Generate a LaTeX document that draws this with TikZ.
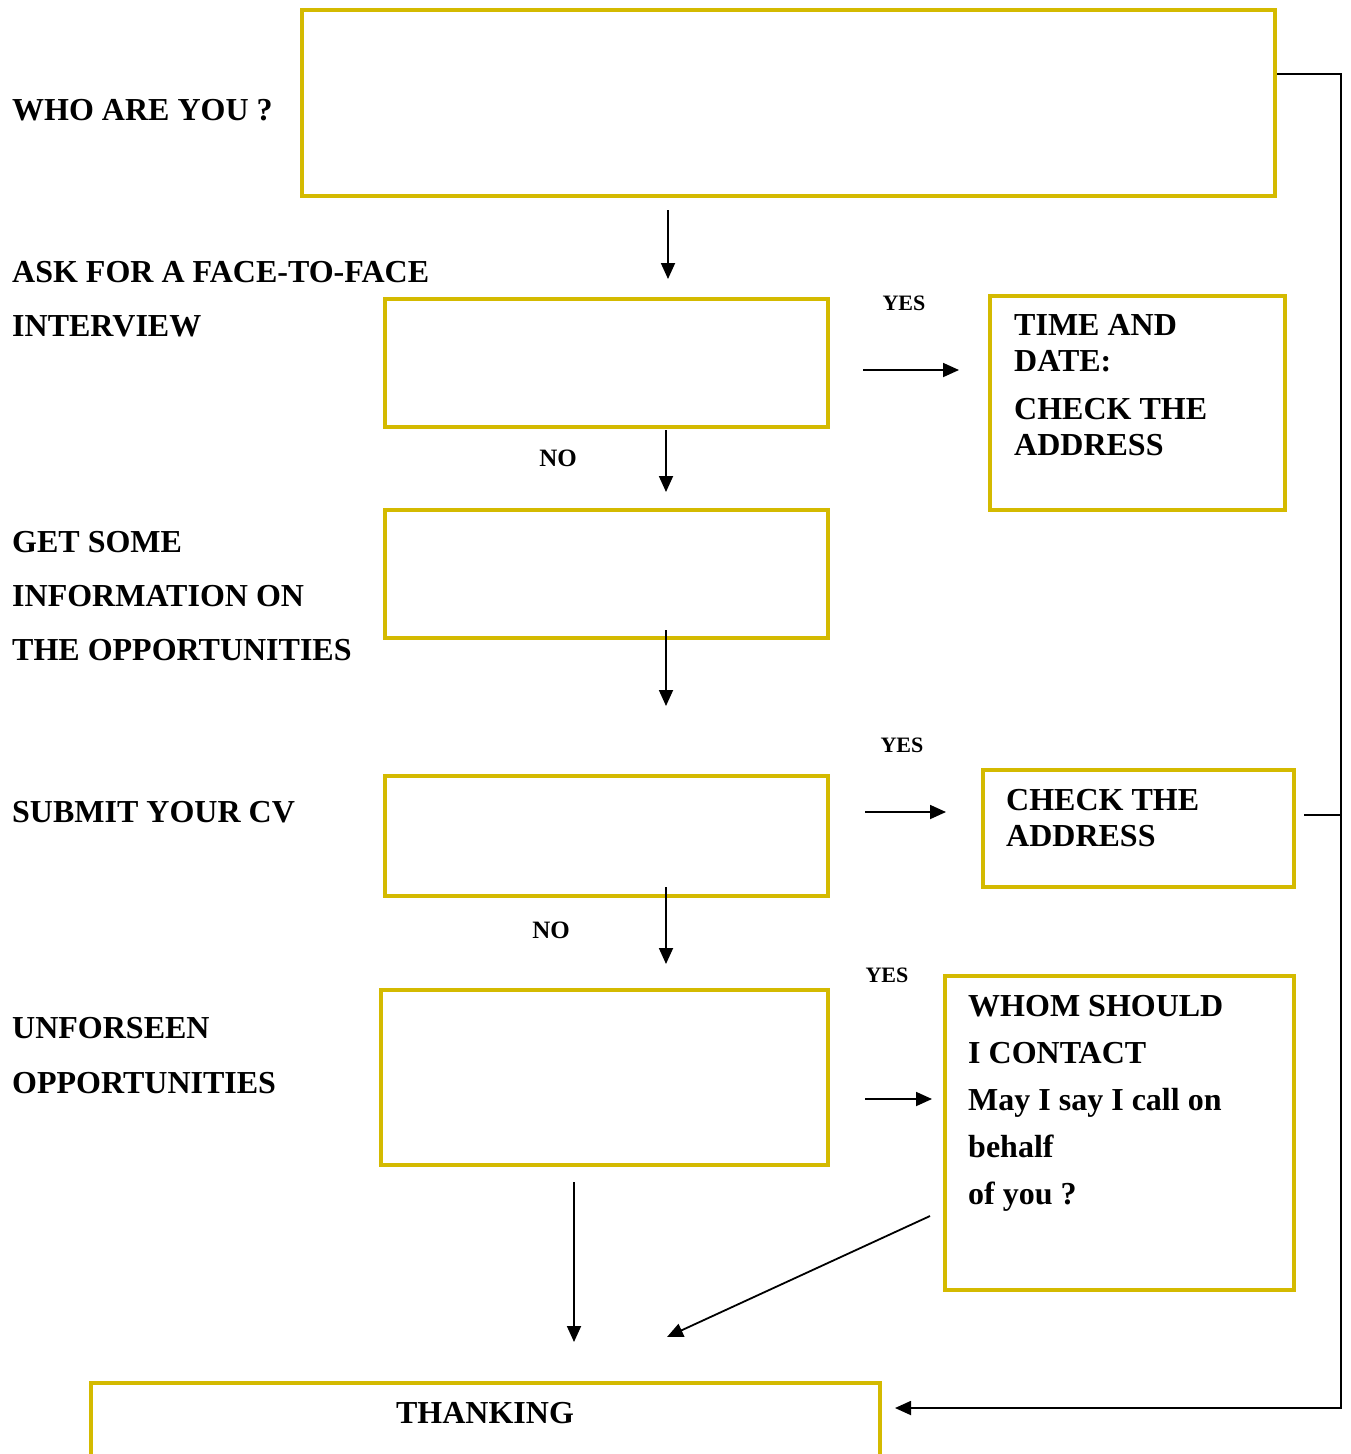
\documentclass[tikz,border=0pt]{standalone}
\usepackage{fontspec}
\setmainfont{Liberation Serif}
\usetikzlibrary{arrows.meta}
\definecolor{boxgold}{RGB}{212,186,0}
\tikzset{
  box/.style={draw=boxgold, line width=4.5pt, inner sep=0pt},
  txt/.style={anchor=base west, inner sep=0pt, align=left, font=\bfseries\fontsize{32}{54}\selectfont},
  small/.style={anchor=base, inner sep=0pt, font=\bfseries\fontsize{22}{26}\selectfont},
  arr/.style={line width=1.8pt, -{Triangle[length=16pt,width=14pt]}},
  wire/.style={line width=1.8pt}
}
\begin{document}
\begin{tikzpicture}[x=1pt, y=-1pt]
\useasboundingbox (0,0) rectangle (1351,1454);
% boxes
\node[box, minimum width=973, minimum height=186] (who) at (788.5,103) {};
\node[box, minimum width=443, minimum height=128] (face) at (606.5,363) {};
\node[box, minimum width=443, minimum height=128] (info) at (606.5,574) {};
\node[box, minimum width=443, minimum height=120] (cv) at (606.5,836) {};
\node[box, minimum width=447, minimum height=175] (unf) at (604.5,1077.5) {};
\node[box, minimum width=295, minimum height=214] (time) at (1137.5,403) {};
\node[box, minimum width=311, minimum height=117] (check) at (1138.5,828.5) {};
\node[box, minimum width=349, minimum height=314] (whom) at (1119.5,1133) {};
\node[box, minimum width=789, minimum height=97] (thank) at (485.5,1431.5) {};
% left texts (placed at the baseline of their last line)
\node[txt] (whotxt) at (12,120) {WHO ARE YOU ?};
\node[txt] (facetxt) at (12,336) {ASK FOR A FACE-TO-FACE\\INTERVIEW};
\node[txt] (infotxt) at (12,660) {GET SOME\\INFORMATION ON\\THE OPPORTUNITIES};
\node[txt] (cvtxt) at (12,822) {SUBMIT YOUR CV};
\node[txt, font=\bfseries\fontsize{32}{55}\selectfont] (unftxt) at (12,1093) {UNFORSEEN\\OPPORTUNITIES};
% texts in boxes
\node[txt, font=\bfseries\fontsize{32}{36}\selectfont] (timetxt) at (1014,455) {TIME AND\\DATE:\\[12pt]CHECK THE\\ADDRESS};
\node[txt, font=\bfseries\fontsize{32}{36}\selectfont] (checktxt) at (1006,846) {CHECK THE\\ADDRESS};
\node[txt, font=\bfseries\fontsize{32}{47}\selectfont] (whomtxt) at (968,1204) {WHOM SHOULD\\I CONTACT\\May I say I call on\\behalf\\of you ?};
\node[txt, anchor=base] (thanktxt) at (485,1423) {THANKING};
% yes / no
\node[small] (yes1) at (904,310) {YES};
\node[small] (yes2) at (902,752) {YES};
\node[small] (yes3) at (887,982) {YES};
\node[small, font=\bfseries\fontsize{25}{28}\selectfont] (no1) at (558,466) {NO};
\node[small, font=\bfseries\fontsize{25}{28}\selectfont] (no2) at (551,938) {NO};
% arrow ends
\coordinate (a1s) at (668,210); \coordinate (a1e) at (668,279);
\coordinate (a2s) at (666,430); \coordinate (a2e) at (666,492);
\coordinate (a3s) at (666,630); \coordinate (a3e) at (666,706);
\coordinate (a4s) at (666,887); \coordinate (a4e) at (666,964);
\coordinate (a5s) at (574,1182); \coordinate (a5e) at (574,1342);
\coordinate (a6s) at (930,1216); \coordinate (a6e) at (667,1337);
\coordinate (y1s) at (863,370); \coordinate (y1e) at (959,370);
\coordinate (y2s) at (865,812); \coordinate (y2e) at (946,812);
\coordinate (y3s) at (865,1099); \coordinate (y3e) at (932,1099);
\coordinate (r1) at (1341,74);
\coordinate (r2) at (1341,1408);
\coordinate (r3) at (895,1408);
\coordinate (c1) at (1304,815);
% arrows
\draw[arr] (a1s) -- (a1e);
\draw[arr] (a2s) -- (a2e);
\draw[arr] (a3s) -- (a3e);
\draw[arr] (a4s) -- (a4e);
\draw[arr] (a5s) -- (a5e);
\draw[arr] (a6s) -- (a6e);
\draw[arr] (y1s) -- (y1e);
\draw[arr] (y2s) -- (y2e);
\draw[arr] (y3s) -- (y3e);
\draw[arr] (who.east |- r1) -- (r1) -- (r2) -- (r3);
\draw[wire] (c1) -- (c1 -| r1);
\end{tikzpicture}
\end{document}
